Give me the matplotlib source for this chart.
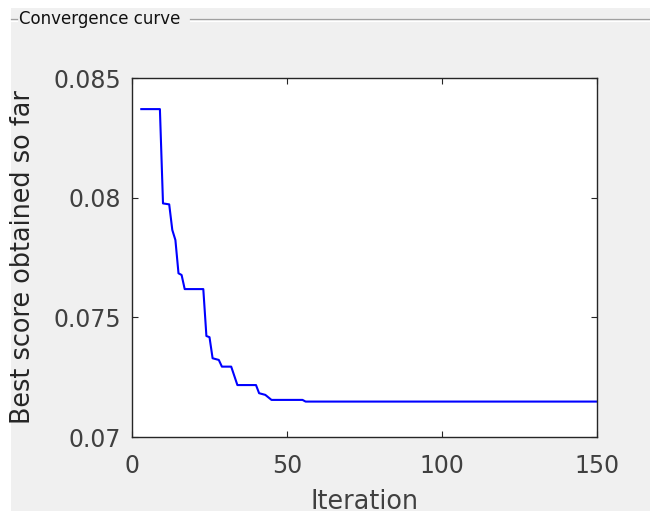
import matplotlib
matplotlib.use("Agg")
import matplotlib.pyplot as plt
from matplotlib.patches import Rectangle
from matplotlib.lines import Line2D

# breakpoints of the convergence curve (iteration, best score)
iterations = [3, 9, 10, 12, 13, 14, 15, 16, 17, 23, 24, 25, 26, 28, 29, 32,
              34, 40, 41, 43, 45, 55, 56, 150]
best_score = [0.0837, 0.0837, 0.07976, 0.07972, 0.07865, 0.07823, 0.07684,
              0.07677, 0.07618, 0.07618, 0.07422, 0.07417, 0.07329, 0.07322,
              0.07294, 0.07294, 0.07217, 0.07217, 0.07183, 0.07176, 0.07155,
              0.07155, 0.07148, 0.07148]

x_ticks = [0, 50, 100, 150]
y_ticks = [0.07, 0.075, 0.08, 0.085]
y_tick_labels = ["0.07", "0.075", "0.08", "0.085"]

W, H = 650, 511
fig = plt.figure(figsize=(6.5, 5.11), dpi=100, facecolor="white")

# gray panel (MATLAB uipanel look)
fig.patches.append(Rectangle((11 / W, 0), 1, 1 - 8 / H, transform=fig.transFigure,
                             facecolor="#f0f0f0", edgecolor="none", zorder=-5))
# etched group box line + title
gy = 1 - 19.5 / H
for x0, x1 in [(11, 17), (190, 650)]:
    fig.lines.append(Line2D([x0 / W, x1 / W], [gy, gy], transform=fig.transFigure,
                            color="#a0a0a0", lw=0.9, zorder=-4))
    fig.lines.append(Line2D([x0 / W, x1 / W], [gy - 1.2 / H, gy - 1.2 / H],
                            transform=fig.transFigure, color="white", lw=0.9,
                            zorder=-4))
fig.text(19 / W, gy, "Convergence curve", fontsize=12, color="#111111",
         va="center", ha="left")

ax = fig.add_axes([132 / W, 1 - 437 / H, (597 - 132) / W, (437 - 78) / H])
ax.set_zorder(2)
ax.set_facecolor("white")
ax.plot(iterations, best_score, color="#0000ff", lw=1.5)

ax.set_xlim(0, 150)
ax.set_ylim(0.07, 0.085)
ax.set_xticks(x_ticks)
ax.set_yticks(y_ticks)
ax.set_yticklabels(y_tick_labels)

for s in ax.spines.values():
    s.set_color("#262626")
    s.set_linewidth(1.0)
ax.tick_params(direction="in", length=4, width=0.8, color="#262626",
               top=True, right=True, labelsize=17, labelcolor="#404040")
ax.tick_params(axis="x", pad=12)
ax.tick_params(axis="y", pad=8)

ax.set_xlabel("Iteration", fontsize=18.4, color="#404040", labelpad=8)
ax.set_ylabel("Best score obtained so far", fontsize=18.4, color="#262626",
              labelpad=12)

fig.savefig("out.png", dpi=100, facecolor=fig.get_facecolor())
